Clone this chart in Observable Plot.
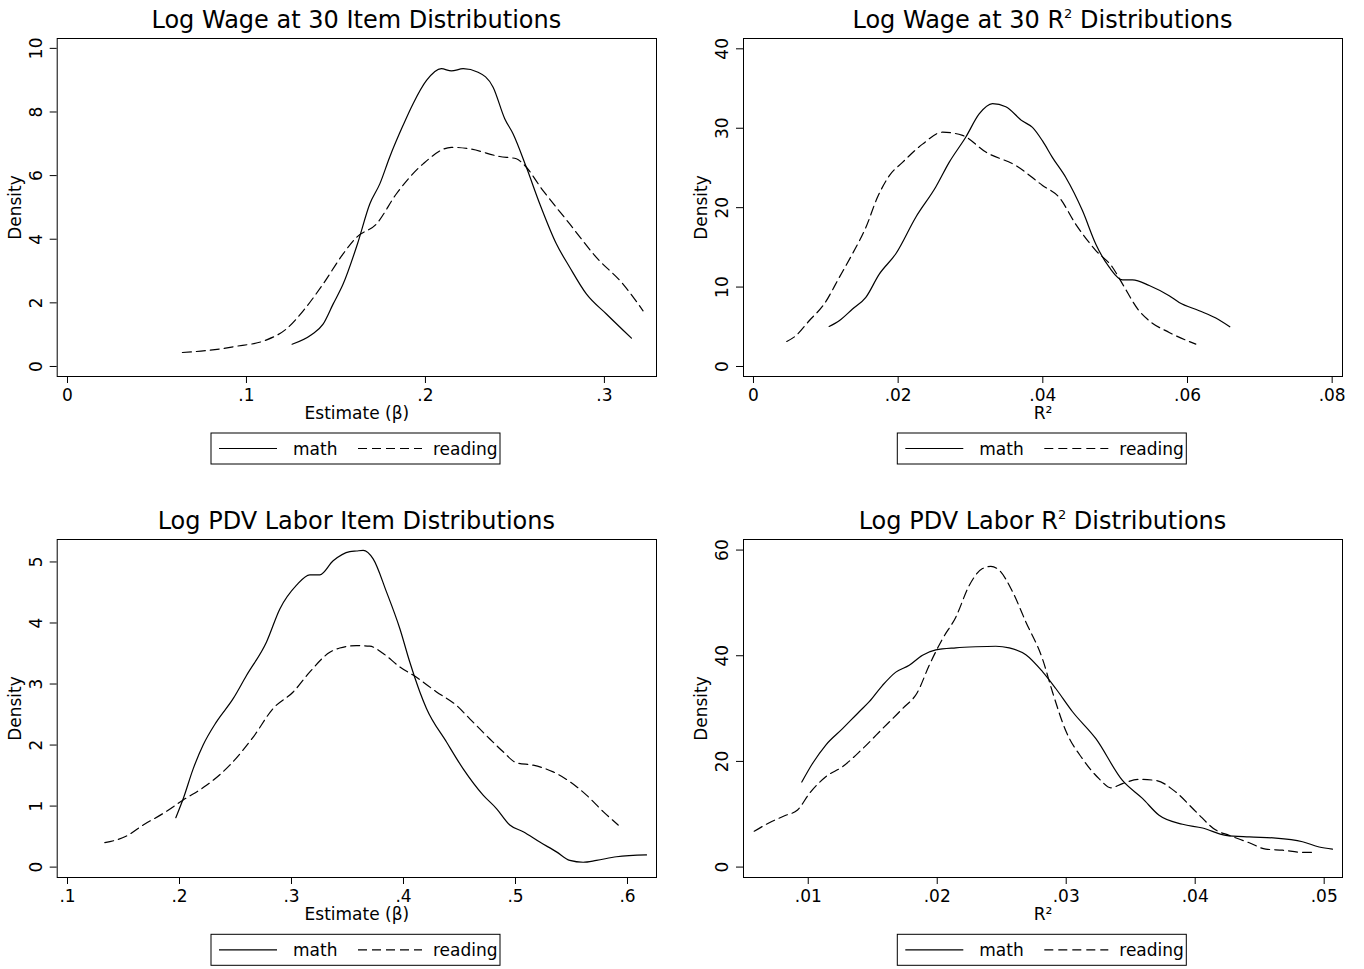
<!DOCTYPE html>
<html><head><meta charset="utf-8">
<script src="https://cdn.jsdelivr.net/npm/d3@7"></script>
<script src="https://cdn.jsdelivr.net/npm/@observablehq/plot@0.6"></script>
<style>
html,body{margin:0;padding:0;background:#fff;}
#root{position:relative;width:1364px;height:969px;overflow:hidden;font-family:"DejaVu Sans";}
#root svg{position:absolute;}
</style></head><body><div id="root"></div>
<script>
const seriesNames = ["math", "reading"];

// Panel 1: Log Wage at 30, item estimates
const p1MathX = [0.1255,0.1363,0.1428,0.1484,0.154,0.162,0.1689,0.1745,0.180,0.1875,0.1931,0.2006,0.2089,0.2145,0.2211,0.2294,0.2378,0.2443,0.249,0.2564,0.2639,0.2732,0.2806,0.2899,0.3011,0.3151];
const p1MathY = [0.70,1.0,1.33,1.96,2.59,3.85,5.11,5.74,6.58,7.58,8.26,8.99,9.36,9.29,9.36,9.25,8.78,7.79,7.31,6.26,5.11,3.85,3.12,2.28,1.65,0.89];
const p1ReadX = [0.0642,0.0851,0.0926,0.111,0.1223,0.1317,0.1428,0.154,0.1615,0.1726,0.1838,0.1987,0.2145,0.2248,0.2415,0.2508,0.2546,0.2657,0.2806,0.2955,0.3104,0.3216];
const p1ReadY = [0.44,0.55,0.62,0.83,1.18,1.75,2.59,3.54,4.06,4.48,5.43,6.37,6.89,6.84,6.60,6.53,6.37,5.53,4.48,3.43,2.59,1.75];

// Panel 2: Log Wage at 30, R^2
const p2MathX = [0.01046,0.01185,0.01369,0.01553,0.01737,0.01968,0.02244,0.0252,0.02705,0.02936,0.0312,0.03304,0.03488,0.03719,0.03857,0.03996,0.04134,0.04318,0.04549,0.04733,0.04918,0.05101,0.0524,0.05471,0.05747,0.05885,0.06162,0.06392,0.06585];
const p2MathY = [5.04,5.76,7.23,8.70,11.6,14.2,18.8,22.6,25.7,28.9,31.8,33.1,32.7,30.9,30.1,28.4,26.3,23.8,19.6,15.4,12.5,10.9,10.9,10.2,8.9,8.07,7.02,6.1,5.0];
const p2ReadX = [0.0046,0.00585,0.0077,0.00977,0.01185,0.01369,0.01553,0.01714,0.01876,0.0206,0.02337,0.02613,0.0289,0.03212,0.03627,0.03996,0.04226,0.04456,0.04733,0.04963,0.05101,0.05332,0.05471,0.05747,0.06115];
const p2ReadY = [3.15,3.87,5.76,7.86,11.2,14.2,17.5,21.3,24.0,25.7,28.0,29.5,29.1,27.0,25.3,22.8,21.3,17.9,14.6,12.5,10.4,7.0,5.76,4.29,2.82];

// Panel 3: Log PDV Labor, item estimates
const p3MathX = [0.1967,0.2033,0.2122,0.2211,0.233,0.2479,0.2598,0.2777,0.2896,0.3045,0.3164,0.3253,0.3372,0.3521,0.358,0.364,0.3729,0.3848,0.3967,0.4056,0.4146,0.4205,0.4384,0.4533,0.4711,0.483,0.4949,0.5069,0.5217,0.5366,0.5485,0.5604,0.5723,0.5902,0.6170];
const p3MathY = [0.81,1.12,1.61,2.0,2.38,2.76,3.14,3.69,4.23,4.62,4.79,4.79,5.02,5.17,5.18,5.19,5.05,4.51,3.91,3.36,2.87,2.60,2.05,1.61,1.18,0.96,0.69,0.58,0.41,0.25,0.11,0.08,0.11,0.17,0.20];
const p3ReadX = [0.1333,0.1527,0.1676,0.1854,0.2033,0.2241,0.2449,0.2658,0.2836,0.3015,0.3164,0.3342,0.3431,0.358,0.3699,0.3819,0.3967,0.4116,0.4295,0.4473,0.4592,0.4771,0.489,0.5009,0.5158,0.5337,0.5485,0.5634,0.5783,0.5917];
const p3ReadY = [0.40,0.51,0.69,0.88,1.10,1.34,1.67,2.13,2.60,2.87,3.20,3.52,3.59,3.63,3.62,3.50,3.28,3.11,2.87,2.65,2.43,2.10,1.89,1.71,1.67,1.56,1.40,1.18,0.91,0.69];

// Panel 4: Log PDV Labor, R^2
const p4MathX = [0.0095,0.01033,0.01136,0.01266,0.01395,0.01473,0.01576,0.01679,0.01783,0.01886,0.01989,0.02144,0.02299,0.02454,0.02558,0.02687,0.02816,0.02919,0.03049,0.0323,0.03436,0.03591,0.0372,0.03902,0.04057,0.04237,0.04419,0.04625,0.04832,0.04961,0.05064];
const p4MathY = [16.1,19.6,23.1,26.2,29.4,31.3,34.4,36.9,38.2,40.1,41.1,41.5,41.7,41.8,41.5,40.2,37.0,33.8,29.4,24.3,16.4,13.0,9.8,8.1,7.4,6.0,5.7,5.5,4.8,3.8,3.4];
const p4ReadX = [0.00581,0.00698,0.00826,0.00917,0.01008,0.01136,0.01266,0.01421,0.01576,0.01731,0.01847,0.01938,0.02041,0.02144,0.02248,0.02351,0.02416,0.0248,0.02584,0.02687,0.02816,0.02894,0.03,0.03126,0.03256,0.03346,0.03436,0.03566,0.03695,0.0385,0.04005,0.0416,0.04263,0.04419,0.04547,0.04677,0.04832,0.04909];
const p4ReadY = [6.8,8.4,9.8,10.8,13.9,17.1,19.0,22.4,26.2,30.0,33.1,38.2,43.2,47.3,53.3,56.5,56.9,56.2,52.1,46.4,39.4,33.1,25.6,20.5,16.7,15.0,15.8,16.6,16.4,14.2,10.5,7.0,6.0,4.6,3.4,3.2,2.8,2.8];

const titles = ["Log Wage at 30 Item Distributions", "Log Wage at 30 R² Distributions", "Log PDV Labor Item Distributions", "Log PDV Labor R² Distributions"];
const xLabels = ["Estimate (β)", "R²", "Estimate (β)", "R²"];
const yLabel = "Density";
const xTicks = [[0, 0.1, 0.2, 0.3], [0, 0.02, 0.04, 0.06, 0.08], [0.1, 0.2, 0.3, 0.4, 0.5, 0.6], [0.01, 0.02, 0.03, 0.04, 0.05]];
const yTicks = [[0, 2, 4, 6, 8, 10], [0, 10, 20, 30, 40], [0, 1, 2, 3, 4, 5], [0, 20, 40, 60]];
const xDomains = [[-0.00575, 0.3291], [-0.00138, 0.08143], [0.0908, 0.6259], [0.00498, 0.05142]];
const yDomains = [[-0.315, 10.31], [-1.26, 41.3], [-0.17, 5.368], [-1.97, 62.0]];
const seriesData = [
  [[p1MathX, p1MathY], [p1ReadX, p1ReadY]],
  [[p2MathX, p2MathY], [p2ReadX, p2ReadY]],
  [[p3MathX, p3MathY], [p3ReadX, p3ReadY]],
  [[p4MathX, p4MathY], [p4ReadX, p4ReadY]]
];

// layout
const cols = [{left: 0, mL: 56.7, mR: 26}, {left: 682, mL: 61, mR: 22}];
const rows = [0, 501.3];
const svgW = 682, svgH = 440, mT = 38, frameH = 338;
const dashes = {math: null, reading: "9,5"};

const root = document.getElementById("root");
const fmtX = d => d === 0 ? "0" : String(d).replace(/^0\./, ".");

for (let i = 0; i < 4; i++) {
  const col = cols[i % 2], top = rows[Math.floor(i / 2)];
  const rowsData = [];
  seriesData[i].forEach(([xs, ys], s) => xs.forEach((x, j) => rowsData.push({series: seriesNames[s], x, y: ys[j]})));
  const chart = Plot.plot({
    width: svgW, height: svgH,
    marginLeft: col.mL, marginRight: col.mR, marginTop: mT, marginBottom: svgH - mT - frameH,
    style: {fontFamily: "DejaVu Sans", fontSize: "17px", color: "black", background: "transparent", overflow: "visible"},
    x: {domain: xDomains[i]},
    y: {domain: yDomains[i]},
    marks: [
      Plot.frame({stroke: "black", strokeWidth: 1}),
      Plot.axisX({ticks: xTicks[i], tickFormat: fmtX, tickSize: 7, tickPadding: 5, label: xLabels[i], labelAnchor: "center", labelOffset: 42.5, labelArrow: "none"}),
      Plot.axisY({ticks: yTicks[i], tickFormat: d => String(d), tickRotate: -90, tickSize: 7, tickPadding: 8.5, label: yLabel, labelAnchor: "center", labelOffset: 48.5, labelArrow: "none"}),
      ...seriesNames.map(name => Plot.line(rowsData.filter(d => d.series === name), {
        x: "x", y: "y", stroke: "black", strokeWidth: 1.2, curve: "monotone-x",
        strokeDasharray: dashes[name]
      }))
    ]
  });
  chart.style.left = col.left + "px";
  chart.style.top = top + "px";
  root.appendChild(chart);
}

// Overlay: titles and legends
const ov = d3.select(root).append("svg")
  .attr("width", 1364).attr("height", 969)
  .style("left", "0px").style("top", "0px")
  .style("font-family", "DejaVu Sans");

for (let i = 0; i < 4; i++) {
  const col = cols[i % 2], top = rows[Math.floor(i / 2)];
  const fl = col.left + col.mL, fr = col.left + svgW - col.mR;
  const cx = (fl + fr) / 2;
  const t = ov.append("text").attr("x", cx).attr("y", top + 27.7)
    .attr("text-anchor", "middle").attr("font-size", 24).attr("fill", "black");
  const parts = titles[i].split("²");
  parts.forEach((p, k) => {
    if (k > 0) {
      t.append("tspan").attr("font-size", 13).attr("dy", -10).text("2");
      t.append("tspan").attr("dy", 10).text(p);
    } else {
      t.append("tspan").text(p);
    }
  });
  // legend
  const lx = fl + 154.3, ly = top + 433;
  const g = ov.append("g").attr("transform", `translate(${lx},${ly})`);
  g.append("rect").attr("x", 0).attr("y", 0).attr("width", 289).attr("height", 31)
    .attr("fill", "white").attr("stroke", "black").attr("stroke-width", 1);
  const entries = [{name: seriesNames[0], x0: 8, x1: 66, tx: 82}, {name: seriesNames[1], x0: 147, x1: 211, tx: 222}];
  entries.forEach(e => {
    g.append("line").attr("x1", e.x0).attr("x2", e.x1).attr("y1", 15.5).attr("y2", 15.5)
      .attr("stroke", "black").attr("stroke-width", 1.2)
      .attr("stroke-dasharray", dashes[e.name]);
    g.append("text").attr("x", e.tx).attr("y", 21.5).attr("font-size", 17).attr("fill", "black").text(e.name);
  });
}
</script></body></html>
